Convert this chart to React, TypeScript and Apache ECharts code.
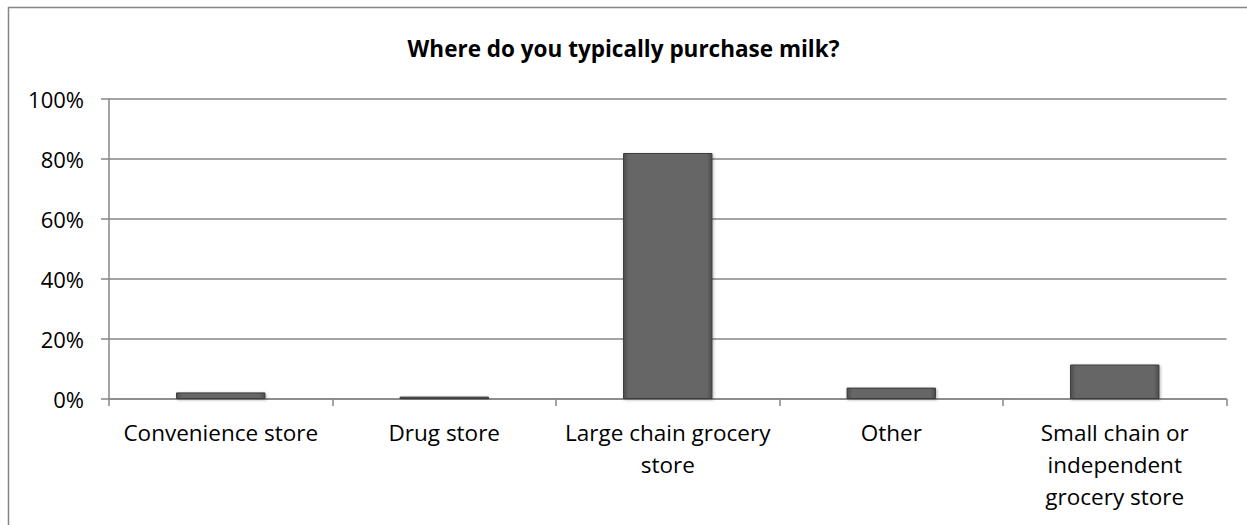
import React, { useEffect, useRef } from "react";
import * as echarts from "echarts";

const titleText = "Where do you typically purchase milk?";
const categories = [
  "Convenience store",
  "Drug store",
  "Large chain grocery store",
  "Other",
  "Small chain or independent grocery store",
];
const labelLines: string[][] = [
  ["Convenience store"],
  ["Drug store"],
  ["Large chain grocery", "store"],
  ["Other"],
  ["Small chain or", "independent", "grocery store"],
];
const shares = [2.2, 0.8, 82.0, 3.8, 11.5];
const yTicks = [0, 20, 40, 60, 80, 100];

export default function App() {
  const ref = useRef<HTMLDivElement>(null);
  useEffect(() => {
    if (!ref.current) return;
    const chart = echarts.init(ref.current, null, { renderer: "svg" });
    const font = "'Open Sans', Lato, sans-serif";
    chart.setOption({
      animation: false,
      backgroundColor: "#ffffff",
      title: {
        text: titleText,
        left: "center",
        top: 32,
        textStyle: { fontFamily: font, fontWeight: "bold", fontSize: 22.5, color: "#000" },
      },
      graphic: [
        {
          type: "rect",
          shape: { x: 8.5, y: 7.5, width: 1400, height: 700 },
          style: { fill: "none", stroke: "#868686", lineWidth: 1.5 },
          silent: true,
          z: 100,
        },
      ],
      grid: { left: 109, right: 20.5, top: 99, bottom: 126, containLabel: false },
      xAxis: {
        type: "category",
        data: categories,
        axisLine: { lineStyle: { color: "#868686", width: 1.5 } },
        axisTick: { show: true, length: 7, lineStyle: { color: "#868686", width: 1.5 } },
        axisLabel: {
          interval: 0,
          margin: 17,
          fontFamily: font,
          fontSize: 22.5,
          lineHeight: 32,
          color: "#000",
          formatter: (v: string) => {
            const i = categories.indexOf(v);
            return i >= 0 ? labelLines[i].join("\n") : v;
          },
        },
      },
      yAxis: {
        type: "value",
        min: yTicks[0],
        max: yTicks[yTicks.length - 1],
        interval: 20,
        axisLine: { show: true, lineStyle: { color: "#868686", width: 1.5 } },
        axisTick: { show: true, length: 8, lineStyle: { color: "#868686", width: 1.5 } },
        splitLine: { lineStyle: { color: "#868686", width: 1.5 } },
        axisLabel: {
          margin: 25,
          fontFamily: font,
          fontSize: 22,
          color: "#000",
          formatter: (v: number) => v + "%",
        },
      },
      series: [
        {
          type: "bar",
          data: shares,
          barWidth: "40%",
          itemStyle: {
            color: {
              type: "linear",
              x: 0,
              y: 0,
              x2: 1,
              y2: 0,
              colorStops: [
                { offset: 0, color: "#4e4e4e" },
                { offset: 0.06, color: "#666666" },
                { offset: 0.94, color: "#666666" },
                { offset: 1, color: "#4e4e4e" },
              ],
            },
            borderColor: "#3c3c3c",
            borderWidth: 1,
            shadowColor: "rgba(0,0,0,0.3)",
            shadowBlur: 3,
            shadowOffsetX: 1,
            shadowOffsetY: 1,
          },
        },
      ],
    });
    return () => chart.dispose();
  }, []);
  return (
    <div
      ref={ref}
      style={{ position: "fixed", left: 0, top: 0, width: 1247, height: 525 }}
    />
  );
}
